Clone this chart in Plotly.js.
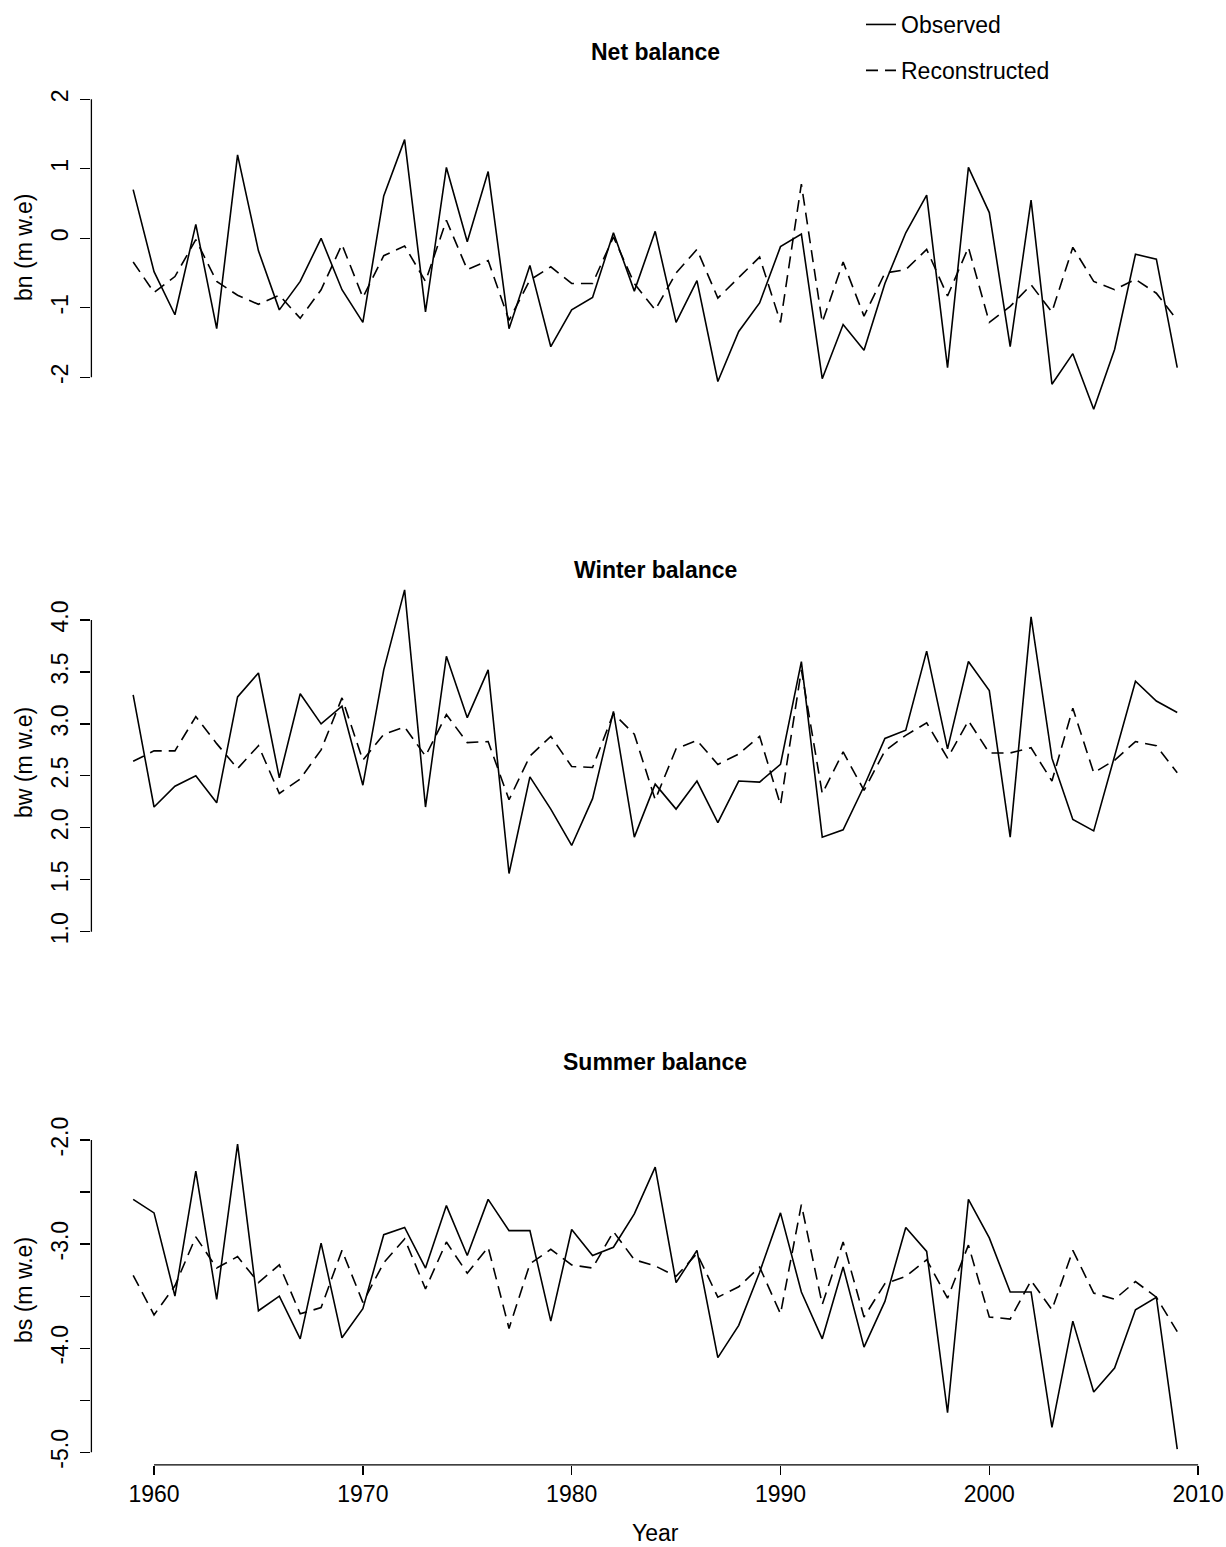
<!DOCTYPE html>
<html>
<head>
<meta charset="utf-8">
<script src="https://cdn.plot.ly/plotly-3.0.1.min.js"></script>
<style>
html,body{margin:0;padding:0;background:#fff;}
#chart{width:1226px;height:1547px;}
</style>
</head>
<body>
<div id="chart"></div>
<script>
// ---------------- data ----------------
const years = [1959,1960,1961,1962,1963,1964,1965,1966,1967,1968,
               1969,1970,1971,1972,1973,1974,1975,1976,1977,1978,
               1979,1980,1981,1982,1983,1984,1985,1986,1987,1988,
               1989,1990,1991,1992,1993,1994,1995,1996,1997,1998,
               1999,2000,2001,2002,2003,2004,2005,2006,2007,2008,2009];

const netObserved = [0.70,-0.48,-1.10,0.20,-1.30,1.20,-0.18,-1.03,-0.62,0.00,
                     -0.74,-1.21,0.61,1.42,-1.06,1.02,-0.05,0.96,-1.30,-0.39,
                     -1.56,-1.03,-0.85,0.08,-0.76,0.10,-1.21,-0.61,-2.06,-1.34,
                     -0.93,-0.12,0.06,-2.02,-1.24,-1.61,-0.65,0.08,0.62,-1.86,
                     1.02,0.37,-1.56,0.55,-2.10,-1.66,-2.46,-1.60,-0.23,-0.30,-1.86];
const netReconstructed = [-0.34,-0.78,-0.55,-0.02,-0.62,-0.82,-0.95,-0.82,-1.15,-0.74,
                          -0.09,-0.85,-0.25,-0.11,-0.62,0.26,-0.45,-0.32,-1.18,-0.60,
                          -0.41,-0.65,-0.65,0.02,-0.65,-1.03,-0.50,-0.16,-0.86,-0.57,
                          -0.27,-1.21,0.78,-1.21,-0.34,-1.12,-0.50,-0.45,-0.16,-0.83,
                          -0.13,-1.21,-0.98,-0.67,-1.06,-0.13,-0.62,-0.74,-0.59,-0.79,-1.18];

const winterObserved = [3.28,2.20,2.40,2.50,2.24,3.26,3.49,2.48,3.29,3.00,
                        3.17,2.41,3.52,4.29,2.20,3.65,3.06,3.52,1.56,2.49,
                        2.18,1.83,2.28,3.12,1.91,2.42,2.18,2.45,2.05,2.45,
                        2.44,2.61,3.60,1.91,1.98,2.40,2.86,2.94,3.70,2.76,
                        3.60,3.32,1.91,4.03,2.67,2.08,1.97,2.68,3.41,3.22,3.11];
const winterReconstructed = [2.64,2.74,2.74,3.07,2.81,2.57,2.79,2.33,2.47,2.75,
                             3.25,2.65,2.90,2.97,2.69,3.09,2.82,2.83,2.27,2.69,
                             2.88,2.59,2.58,3.10,2.90,2.27,2.76,2.84,2.61,2.71,
                             2.88,2.22,3.52,2.33,2.73,2.36,2.74,2.89,3.01,2.67,
                             3.03,2.72,2.72,2.77,2.45,3.15,2.53,2.65,2.83,2.79,2.53];

const summerObserved = [-2.57,-2.70,-3.50,-2.30,-3.53,-2.04,-3.64,-3.50,-3.91,-2.99,
                        -3.90,-3.62,-2.91,-2.84,-3.23,-2.63,-3.11,-2.57,-2.87,-2.87,
                        -3.74,-2.86,-3.11,-3.03,-2.71,-2.26,-3.37,-3.06,-4.09,-3.78,
                        -3.27,-2.70,-3.46,-3.91,-3.22,-3.99,-3.55,-2.84,-3.07,-4.62,
                        -2.57,-2.94,-3.46,-3.46,-4.76,-3.74,-4.42,-4.19,-3.63,-3.51,-4.97];
const summerReconstructed = [-3.30,-3.68,-3.40,-2.93,-3.23,-3.12,-3.37,-3.20,-3.67,-3.61,
                             -3.06,-3.56,-3.18,-2.95,-3.43,-2.98,-3.28,-3.03,-3.81,-3.19,
                             -3.05,-3.20,-3.23,-2.88,-3.15,-3.21,-3.31,-3.09,-3.51,-3.41,
                             -3.22,-3.67,-2.62,-3.58,-2.98,-3.70,-3.38,-3.31,-3.15,-3.52,
                             -3.01,-3.70,-3.72,-3.35,-3.63,-3.06,-3.47,-3.53,-3.36,-3.51,-3.84];

const panelTitles = ["Net balance","Winter balance","Summer balance"];
const yLabels = ["bn (m w.e)","bw (m w.e)","bs (m w.e)"];
const seriesNames = ["Observed","Reconstructed"];
const yTickVals1 = [-2,-1,0,1,2];
const yTickText1 = ["-2","-1","0","1","2"];
const yTickVals2 = [1.0,1.5,2.0,2.5,3.0,3.5,4.0];
const yTickText2 = ["1.0","1.5","2.0","2.5","3.0","3.5","4.0"];
const yTickVals3 = [-5.0,-4.5,-4.0,-3.5,-3.0,-2.5,-2.0];
const yTickText3 = ["-5.0","","-4.0","","-3.0","","-2.0"];
const xTickVals = [1960,1970,1980,1990,2000,2010];
const xTickText = ["1960","1970","1980","1990","2000","2010"];

// ---------------- layout helpers ----------------
const W = 1226, H = 1547;
const fx = p => p / W;
const fy = p => 1 - p / H;
const FONT = "Liberation Sans, Arial, Helvetica, sans-serif";
const FS = 23;
const LW = 1.6;
const DASH = "12px,7px";

const xDom = [fx(91.4), fx(1219)];
const xRange = [1957, 2011];

function mkTrace(y, xa, ya, name, dashed, show) {
  return {
    x: years, y: y, xaxis: xa, yaxis: ya, type: "scatter", mode: "lines",
    name: name, showlegend: show, legendgroup: name,
    line: {color: "#000", width: LW, dash: dashed ? DASH : "solid"},
    hoverinfo: "skip"
  };
}

const traces = [
  mkTrace(netObserved, "x", "y", seriesNames[0], false, true),
  mkTrace(netReconstructed, "x", "y", seriesNames[1], true, true),
  mkTrace(winterObserved, "x2", "y2", seriesNames[0], false, false),
  mkTrace(winterReconstructed, "x2", "y2", seriesNames[1], true, false),
  mkTrace(summerObserved, "x3", "y3", seriesNames[0], false, false),
  mkTrace(summerReconstructed, "x3", "y3", seriesNames[1], true, false)
];

function yAxis(domainPx, range, tv, tt) {
  return {
    domain: [fy(domainPx[1]), fy(domainPx[0])], range: range,
    showline: false, zeroline: false, showgrid: false,
    ticks: "outside", ticklen: 10, tickwidth: 1.3, tickcolor: "#000",
    tickvals: tv, ticktext: tt, tickangle: -90,
    tickfont: {family: FONT, size: FS, color: "#000"},
    ticklabelstandoff: 3,
    automargin: false, fixedrange: true
  };
}
function hiddenX(anchor) {
  return {domain: xDom, range: xRange, visible: false, anchor: anchor, fixedrange: true};
}

const axX = xDom[0];
const lineStyle = {color: "#000", width: 1.3};
const shapes = [
  {type: "line", xref: "paper", yref: "y", x0: axX, x1: axX, y0: yTickVals1[0], y1: yTickVals1[yTickVals1.length-1], line: lineStyle},
  {type: "line", xref: "paper", yref: "y2", x0: axX, x1: axX, y0: yTickVals2[0], y1: yTickVals2[yTickVals2.length-1], line: lineStyle},
  {type: "line", xref: "paper", yref: "y3", x0: axX, x1: axX, y0: yTickVals3[0], y1: yTickVals3[yTickVals3.length-1], line: lineStyle},
  {type: "line", xref: "x3", yref: "paper", x0: xTickVals[0], x1: xTickVals[xTickVals.length-1], y0: fy(1464.8), y1: fy(1464.8), line: lineStyle}
];

function ann(text, xp, yp, opts) {
  return Object.assign({
    text: text, x: fx(xp), y: fy(yp), xref: "paper", yref: "paper",
    xanchor: "center", yanchor: "middle", showarrow: false,
    font: {family: FONT, size: FS, color: "#000"}
  }, opts || {});
}

const annotations = [
  ann("<b>" + panelTitles[0] + "</b>", 655, 52),
  ann("<b>" + panelTitles[1] + "</b>", 655, 570),
  ann("<b>" + panelTitles[2] + "</b>", 655, 1062),
  ann(yLabels[0], 24, 247, {textangle: -90}),
  ann(yLabels[1], 24, 763, {textangle: -90}),
  ann(yLabels[2], 24, 1290, {textangle: -90}),
  ann("Year", 655, 1533)
];

const layout = {
  width: W, height: H,
  margin: {l: 0, r: 0, t: 0, b: 0, pad: 0},
  paper_bgcolor: "#fff", plot_bgcolor: "#fff",
  font: {family: FONT, size: FS, color: "#000"},
  showlegend: true,
  legend: {
    x: fx(861), y: fy(3), xanchor: "left", yanchor: "top",
    bgcolor: "rgba(0,0,0,0)", borderwidth: 0,
    font: {family: FONT, size: FS, color: "#000"},
    tracegroupgap: 13, itemwidth: 30, orientation: "v"
  },
  xaxis: hiddenX("y"),
  xaxis2: hiddenX("y2"),
  xaxis3: {
    domain: xDom, range: xRange, anchor: "y3",
    showline: false, zeroline: false, showgrid: false,
    ticks: "outside", ticklen: 9, tickwidth: 1.3, tickcolor: "#000",
    tickvals: xTickVals, ticktext: xTickText, tickangle: 0,
    tickfont: {family: FONT, size: FS, color: "#000"},
    automargin: false, fixedrange: true
  },
  yaxis: yAxis([92.35, 432.9], [-2.8, 2.1], yTickVals1, yTickText1),
  yaxis2: yAxis([583.6, 947.3], [0.85, 4.35], yTickVals2, yTickText2),
  yaxis3: yAxis([1124.4, 1464.8], [-5.12, -1.85], yTickVals3, yTickText3),
  shapes: shapes,
  annotations: annotations
};
layout.yaxis.anchor = "x";
layout.yaxis2.anchor = "x2";
layout.yaxis3.anchor = "x3";

Plotly.newPlot("chart", traces, layout, {staticPlot: true, displayModeBar: false});
</script>
</body>
</html>
